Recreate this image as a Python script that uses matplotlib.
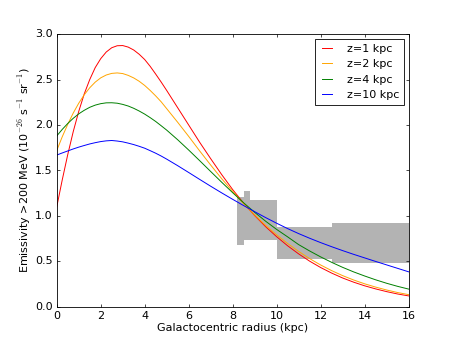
import numpy as np
import matplotlib
matplotlib.use('Agg')
import matplotlib.pyplot as plt

# Galactocentric radius grid (kpc): finer where the curves bend most
radius = [0, 0.25, 0.5, 0.75, 1, 1.25, 1.5, 1.75, 2, 2.25, 2.5, 2.75, 3, 3.25, 3.5,
          3.75, 4, 4.25, 4.5, 4.75, 5, 5.5, 6, 6.5, 7, 7.5, 8, 8.5, 9, 9.5, 10,
          10.5, 11, 11.5, 12, 12.5, 13, 13.5, 14, 14.5, 15, 15.5, 16]

# Emissivity, one list per halo height
emis_z1 = [1.10, 1.397, 1.675, 1.928, 2.15, 2.342, 2.50, 2.632, 2.73, 2.803, 2.85,
           2.872, 2.874, 2.857, 2.825, 2.778, 2.72, 2.645, 2.56, 2.472, 2.38,
           2.19, 2.00, 1.81, 1.63, 1.455, 1.29, 1.14, 1.005, 0.882, 0.772, 0.672,
           0.583, 0.503, 0.433, 0.372, 0.318, 0.272, 0.232, 0.198, 0.168, 0.142, 0.121]
emis_z2 = [1.72, 1.871, 2.008, 2.132, 2.24, 2.333, 2.41, 2.472, 2.519, 2.55, 2.568,
           2.573, 2.566, 2.546, 2.518, 2.481, 2.435, 2.38, 2.32, 2.255, 2.18,
           2.03, 1.875, 1.715, 1.56, 1.41, 1.27, 1.135, 1.01, 0.895, 0.792, 0.697,
           0.61, 0.531, 0.461, 0.399, 0.344, 0.296, 0.254, 0.218, 0.186, 0.158, 0.135]
emis_z4 = [1.88, 1.952, 2.017, 2.074, 2.123, 2.162, 2.195, 2.219, 2.235, 2.244, 2.245,
           2.24, 2.227, 2.209, 2.184, 2.154, 2.12, 2.081, 2.039, 1.992, 1.944,
           1.838, 1.725, 1.608, 1.489, 1.371, 1.256, 1.144, 1.04, 0.942, 0.852, 0.77,
           0.685, 0.615, 0.55, 0.49, 0.435, 0.385, 0.34, 0.298, 0.26, 0.226, 0.196]
emis_z10 = [1.67, 1.693, 1.715, 1.737, 1.757, 1.775, 1.792, 1.806, 1.818, 1.826, 1.830,
            1.824, 1.815, 1.801, 1.785, 1.766, 1.745, 1.718, 1.69, 1.659, 1.625,
            1.553, 1.478, 1.402, 1.327, 1.254, 1.183, 1.114, 1.047, 0.982, 0.92, 0.861,
            0.806, 0.755, 0.707, 0.662, 0.619, 0.578, 0.539, 0.50, 0.462, 0.424, 0.386]

labels = ['z=1 kpc', 'z=2 kpc', 'z=4 kpc', 'z=10 kpc']
colors = ['r', 'orange', 'g', 'b']

# measured emissivity band (gray boxes)
band_edges = [8.2, 8.5, 8.8, 10.0, 12.5, 16.0]
band_low = [0.68, 0.735, 0.735, 0.53, 0.48]
band_high = [1.21, 1.28, 1.18, 0.88, 0.92]

plt.style.use('classic')
plt.rcParams['figure.facecolor'] = 'white'
plt.rcParams['savefig.facecolor'] = 'white'
plt.rcParams['font.size'] = 8
plt.rcParams['axes.linewidth'] = 0.6
plt.rcParams['xtick.major.size'] = 2.3
plt.rcParams['ytick.major.size'] = 2.3
plt.rcParams['xtick.minor.size'] = 1.2
plt.rcParams['ytick.minor.size'] = 1.2
plt.rcParams['xtick.major.width'] = 0.5
plt.rcParams['ytick.major.width'] = 0.5
plt.rcParams['xtick.major.pad'] = 3
plt.rcParams['ytick.major.pad'] = 3

fig = plt.figure(figsize=(4.54, 3.41), dpi=100)
ax = fig.add_axes([0.125, 0.1, 0.775, 0.8])

for i in range(len(band_low)):
    ax.fill_between([band_edges[i], band_edges[i + 1]], band_low[i], band_high[i],
                    color='0.7', linewidth=0)

for vals, lab, col in zip([emis_z1, emis_z2, emis_z4, emis_z10], labels, colors):
    ax.plot(radius, vals, color=col, lw=0.7, label=lab)

ax.set_xlim(0, 16)
ax.set_ylim(0, 3)
ax.set_xticks(np.arange(0, 17, 2))
ax.set_yticks(np.arange(0, 3.01, 0.5))
ax.set_xlabel('Galactocentric radius (kpc)', labelpad=1.5)
ax.set_ylabel(r'Emissivity >200 MeV (10$^{-26}$ s$^{-1}$ sr$^{-1}$)', labelpad=1)
leg = ax.legend(loc='upper right', fontsize=8, handlelength=1.5, handletextpad=1.0,
                borderaxespad=0.45)
leg.get_frame().set_linewidth(0.6)

fig.savefig('out.png', dpi=100)
